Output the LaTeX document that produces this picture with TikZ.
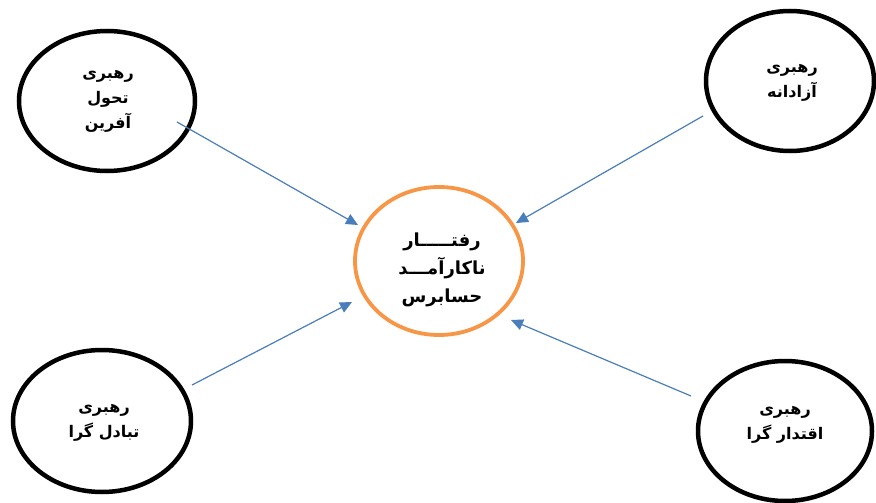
\documentclass[tikz,border=0pt]{standalone}
\usepackage{fontspec}
\usetikzlibrary{shapes.geometric,arrows.meta}
\TeXXeTstate=1
\newfontfamily\arabicfont[Script=Arabic]{DejaVu Sans}
\definecolor{arrowblue}{HTML}{4A7EBB}
\definecolor{borderorange}{HTML}{F79646}
\newcommand{\rl}[1]{\beginR #1\endR}
\tikzset{
  leader/.style={ellipse, draw=black, line width=4.5pt, inner sep=0pt},
  core/.style={ellipse, draw=borderorange, line width=3.8pt, inner sep=0pt},
  leadertext/.style={font=\arabicfont\bfseries\fontsize{16}{25}\selectfont, align=center},
  coretext/.style={font=\arabicfont\bfseries\fontsize{18}{28}\selectfont, align=center},
  link/.style={draw=arrowblue, line width=1.2pt,
    -{Triangle[length=12pt,width=11pt]}}
}
\begin{document}
\begin{tikzpicture}[x=1pt,y=-1pt]
  \useasboundingbox (0,0) rectangle (876,503);
  % central node
  \node[core, minimum width=168pt, minimum height=148pt] (c) at (439,261) {};
  \node[coretext] (ct) at (442,270)
    {\rl{رفتـــــار}\\\rl{ناکارآمـــد}\\\rl{حسابرس}};
  % leadership styles
  \node[leader, minimum width=176pt, minimum height=140pt] (tl) at (107,101) {};
  \node[leadertext] (tlt) at (108,101) {\rl{رهبری}\\\rl{تحول}\\\rl{آفرین}};
  \node[leader, minimum width=168pt, minimum height=140pt] (tr) at (790,81) {};
  \node[leadertext] (trt) at (792,83) {\rl{رهبری}\\\rl{آزادانه}};
  \node[leader, minimum width=178pt, minimum height=142pt] (bl) at (102,421) {};
  \node[leadertext] (blt) at (104,423) {\rl{رهبری}\\\rl{تبادل گرا}};
  \node[leader, minimum width=174pt, minimum height=140pt] (br) at (785,431) {};
  \node[leadertext] (brt) at (785,425) {\rl{رهبری}\\\rl{اقتدار گرا}};
  % connectors
  \coordinate (a1) at (177,122);
  \coordinate (a2) at (703,116);
  \coordinate (a3) at (192,385);
  \coordinate (a4) at (691,396);
  \draw[link] (a1) -- (358,225);
  \draw[link] (a2) -- (516,223);
  \draw[link] (a3) -- (352,302);
  \draw[link] (a4) -- (511,320);
\end{tikzpicture}
\end{document}
